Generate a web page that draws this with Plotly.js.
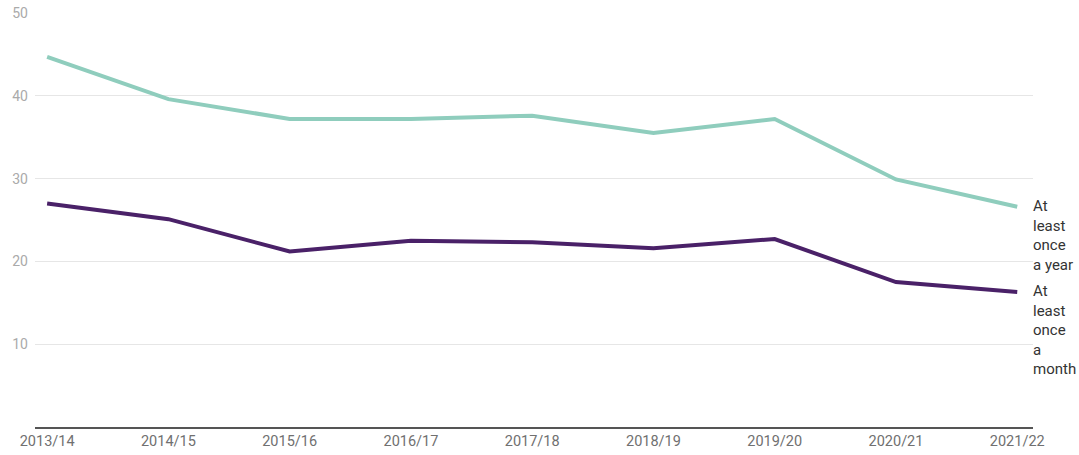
<!DOCTYPE html>
<html><head><meta charset="utf-8">
<script src="https://cdn.plot.ly/plotly-3.0.1.min.js"></script>
<style>html,body{margin:0;padding:0;background:#fff;}#chart{width:1079px;height:455px;}</style>
</head><body><div id="chart"></div>
<script>
var years = ["2013/14","2014/15","2015/16","2016/17","2017/18","2018/19","2019/20","2020/21","2021/22"];
var onceYear = [44.7, 39.6, 37.2, 37.2, 37.6, 35.5, 37.2, 29.9, 26.6];
var onceMonth = [27.0, 25.1, 21.2, 22.5, 22.3, 21.6, 22.7, 17.5, 16.3];
var yTicks = [10, 20, 30, 40, 50];
var labelYear = "At<br>least<br>once<br>a year";
var labelMonth = "At<br>least<br>once<br>a<br>month";

var traces = [
  {x: years, y: onceYear, type: "scatter", mode: "lines", line: {color: "#8fcdbd", width: 4}, hoverinfo: "none"},
  {x: years, y: onceMonth, type: "scatter", mode: "lines", line: {color: "#4a2168", width: 4}, hoverinfo: "none"}
];
var layout = {
  width: 1079, height: 455,
  margin: {l: 35, r: 46, t: 13, b: 28},
  paper_bgcolor: "#fff", plot_bgcolor: "#fff",
  showlegend: false,
  font: {family: "Roboto, sans-serif", size: 14, color: "#666"},
  xaxis: {type: "category", range: [-0.1, 8.13], showgrid: false, zeroline: false,
    showline: true, linecolor: "#555", linewidth: 2, ticks: "", tickfont: {size: 14.5, color: "#707070"}},
  yaxis: {range: [0, 50], tickvals: yTicks, showgrid: true, gridcolor: "#e6e6e6", gridwidth: 1,
    zeroline: false, showline: false, ticks: "", tickfont: {size: 14, color: "#aaa"}, ticklabelstandoff: 6},
  annotations: [
    {x: 1, xref: "paper", y: onceYear[onceYear.length-1], yref: "y", text: labelYear, showarrow: false,
     xanchor: "left", yanchor: "top", align: "left", xshift: -2, yshift: 12, font: {size: 15, color: "#333"}},
    {x: 1, xref: "paper", y: onceMonth[onceMonth.length-1], yref: "y", text: labelMonth, showarrow: false,
     xanchor: "left", yanchor: "top", align: "left", xshift: -2, yshift: 12, font: {size: 15, color: "#333"}}
  ]
};
Plotly.newPlot("chart", traces, layout, {staticPlot: true, displayModeBar: false});
</script></body></html>
